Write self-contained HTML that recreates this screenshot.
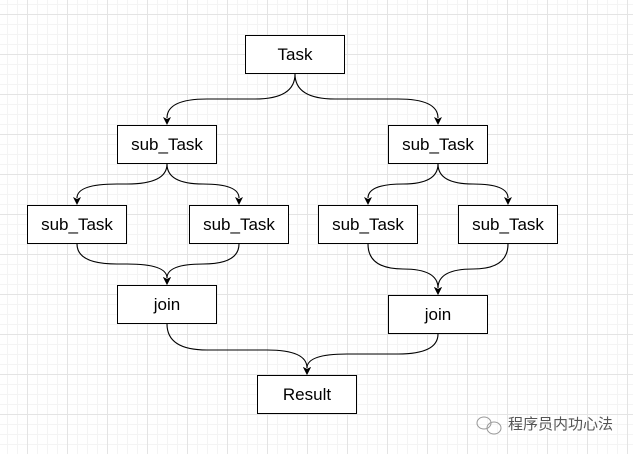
<!DOCTYPE html>
<html><head><meta charset="utf-8"><style>
html,body{margin:0;padding:0;background:#fff;}
body{width:633px;height:454px;overflow:hidden;position:relative;
background-image:
linear-gradient(#e4e4e4 1px,transparent 1px),
linear-gradient(90deg,#e4e4e4 1px,transparent 1px),
linear-gradient(#f4f4f4 1px,transparent 1px),
linear-gradient(90deg,#f4f4f4 1px,transparent 1px);
background-size:40px 40px,40px 40px,10px 10px,10px 10px;
background-position:27px 14px,27px 14px,7px 4px,7px 4px;}
.b{position:absolute;width:98px;height:37px;border:1px solid #000;background:#fff;
font-family:"Liberation Sans",Arial,sans-serif;font-size:17px;color:#000;
display:flex;align-items:center;justify-content:center;box-sizing:content-box;}
svg{position:absolute;left:0;top:0;}
.wm{position:absolute;left:508px;top:413px;font-family:"Liberation Sans","Noto Sans CJK SC",sans-serif;font-size:15px;color:#555;}
</style></head><body>
<svg width="633" height="454">
<defs><marker id="a" markerWidth="8" markerHeight="8" refX="1" refY="4" orient="auto" markerUnits="userSpaceOnUse">
<path d="M0,0 L8,4 L0,8 L2,4 Z" fill="#000"/></marker></defs>
<g fill="none" stroke="#000" stroke-width="1.1" marker-end="url(#a)">
<path d="M295 74 Q295 99 255 99 L207 99 Q167 99 167 118"/>
<path d="M295 74 Q295 99 335 99 L398 99 Q438 99 438 118"/>
<path d="M167 164 Q167 184 127 184 L117 184 Q77 184 77 198"/>
<path d="M167 164 Q167 184 203 184 Q239 184 239 198"/>
<path d="M438 164 Q438 184 403 184 Q368 184 368 198"/>
<path d="M438 164 Q438 184 473 184 Q508 184 508 198"/>
<path d="M77 244 Q77 264 117 264 L127 264 Q167 264 167 278"/>
<path d="M239 244 Q239 264 203 264 Q167 264 167 278"/>
<path d="M368 244 Q368 269 403 269 Q438 269 438 288"/>
<path d="M508 244 Q508 269 473 269 Q438 269 438 288"/>
<path d="M167 324 Q167 350 207 350 L267 350 Q307 350 307 368"/>
<path d="M438 334 Q438 354 398 354 L347 354 Q307 354 307 368"/>
</g>
<g fill="none" stroke="#999" stroke-width="1">
<ellipse cx="484" cy="423" rx="7" ry="6"/>
<ellipse cx="494" cy="428" rx="7" ry="6"/>
</g>
</svg>
<div class="b" style="left:245px;top:35px">Task</div>
<div class="b" style="left:117px;top:125px">sub_Task</div>
<div class="b" style="left:388px;top:125px">sub_Task</div>
<div class="b" style="left:27px;top:205px">sub_Task</div>
<div class="b" style="left:189px;top:205px">sub_Task</div>
<div class="b" style="left:318px;top:205px">sub_Task</div>
<div class="b" style="left:458px;top:205px">sub_Task</div>
<div class="b" style="left:117px;top:285px">join</div>
<div class="b" style="left:388px;top:295px">join</div>
<div class="b" style="left:257px;top:375px">Result</div>
<div class="wm">程序员内功心法</div>
</body></html>
